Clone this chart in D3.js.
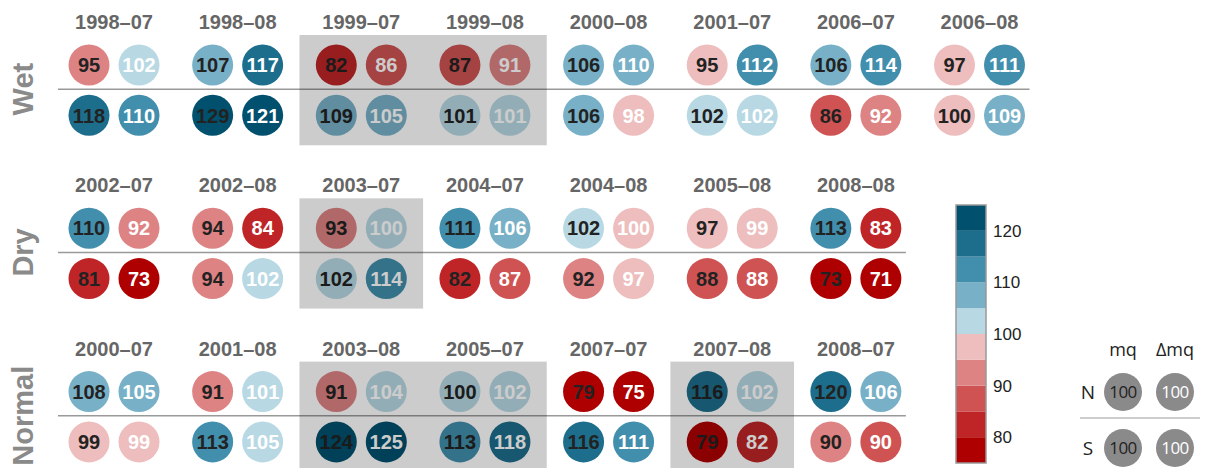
<!DOCTYPE html>
<html>
<head>
<meta charset="utf-8">
<script src="https://cdn.jsdelivr.net/npm/d3@7"></script>
<style>
  body { margin: 0; background: #fff; }
  svg { display: block; }
</style>
</head>
<body>
<svg id="chart"></svg>
<script>
// values; top row = N, bottom row = S, left circle = mq, right = Δmq
const wetMonths = ["1998–07", "1998–08", "1999–07", "1999–08", "2000–08", "2001–07", "2006–07", "2006–08"];
const wetNorthMq = [94.6, 107, 82, 87, 106, 95.2, 106, 97];
const wetNorthDmq = [102, 117, 86, 91, 109.6, 112, 114, 111];
const wetSouthMq = [118, 129, 109, 101, 106, 102, 86, 99.8];
const wetSouthDmq = [110, 121, 105, 101, 98, 102, 92, 109];
const wetShaded = ["1999–07", "1999–08"];

const dryMonths = ["2002–07", "2002–08", "2003–07", "2004–07", "2004–08", "2005–08", "2008–08"];
const dryNorthMq = [110, 94, 93, 111, 102, 97, 113];
const dryNorthDmq = [92, 84, 100.2, 106, 99.8, 99, 83];
const drySouthMq = [81, 94, 102, 82, 92, 88, 73];
const drySouthDmq = [73, 102, 114, 87, 97, 88, 71];
const dryShaded = ["2003–07"];

const normalMonths = ["2000–07", "2001–08", "2003–08", "2005–07", "2007–07", "2007–08", "2008–07"];
const normalNorthMq = [108, 91, 91, 100.2, 79, 116, 119.6];
const normalNorthDmq = [105, 101, 104, 102, 75, 102, 106];
const normalSouthMq = [99, 113, 124, 113, 116, 79, 90.2];
const normalSouthDmq = [99, 104.8, 125, 118, 111, 82, 89.8];
const normalShaded = ["2003–08", "2005–07", "2007–08"];

const binEdges = [75, 80, 85, 90, 95, 100, 105, 110, 115, 120, 125];
const binColors = ["#ae0000", "#bf2527", "#cf5353", "#de8383", "#eebdbd",
                   "#b8d9e4", "#78b1c7", "#428fad", "#1d6e8c", "#00506e"];
const colorbarTicks = [80, 90, 100, 110, 120];

const legendCols = ["mq", "Δmq"];
const legendRows = ["N", "S"];
const legendValue = 100;

const width = 1205, height = 468;

const svg = d3.select("#chart")
  .attr("width", width)
  .attr("height", height);

const color = d3.scaleThreshold()
  .domain(binEdges.slice(1, -1))
  .range(binColors);

const blocks = [
  { name: "Wet", months: wetMonths, n: [wetNorthMq, wetNorthDmq], s: [wetSouthMq, wetSouthDmq], shaded: wetShaded },
  { name: "Dry", months: dryMonths, n: [dryNorthMq, dryNorthDmq], s: [drySouthMq, drySouthDmq], shaded: dryShaded },
  { name: "Normal", months: normalMonths, n: [normalNorthMq, normalNorthDmq], s: [normalSouthMq, normalSouthDmq], shaded: normalShaded }
];

const xGroup = d3.scaleLinear().domain([0, 7]).range([114, 979.5]);
const xPair = d3.scalePoint().domain([0, 1]).range([-25, 25]);
const yBlock = d3.scalePoint().domain(blocks.map(b => b.name)).range([0, 326.6]);
const yHalf = d3.scalePoint().domain(legendRows).range([65, 115.3]);
const r = 20.5;
const step = xGroup(1) - xGroup(0);

const bold = "'Liberation Sans', Arial, Helvetica, sans-serif";

// join neighbouring shaded months into one span so the veil isn't doubled
function shadeRuns(months, shaded) {
  const idx = shaded.map(m => months.indexOf(m)).sort((a, b) => a - b);
  const runs = [];
  idx.forEach(i => {
    const last = runs[runs.length - 1];
    if (last && last[1] === i - 1) last[1] = i;
    else runs.push([i, i]);
  });
  return runs;
}

blocks.forEach(block => {
  const g = svg.append("g")
    .attr("transform", `translate(0,${yBlock(block.name)})`);

  const sepY = (yHalf("N") + yHalf("S")) / 2 - 1;

  // row label
  g.append("text")
    .attr("transform", `translate(33,${sepY}) rotate(-90)`)
    .attr("text-anchor", "middle")
    .style("font-family", bold)
    .style("font-weight", "bold")
    .style("font-size", "29px")
    .style("fill", "#8a8a8a")
    .text(block.name);

  // separator between N and S
  g.append("line")
    .attr("x1", xGroup(0) - 56)
    .attr("x2", xGroup(block.months.length - 1) + 50)
    .attr("y1", sepY).attr("y2", sepY)
    .attr("stroke", "#999")
    .attr("stroke-width", 1.5);

  g.selectAll(".month")
    .data(block.months)
    .join("text")
    .attr("x", (d, i) => xGroup(i))
    .attr("y", 29)
    .attr("text-anchor", "middle")
    .style("font-family", bold)
    .style("font-weight", "bold")
    .style("font-size", "20px")
    .style("fill", "#666")
    .text(d => d);

  const cells = [];
  block.months.forEach((m, i) => {
    [["N", block.n], ["S", block.s]].forEach(([row, series]) => {
      series.forEach((vals, k) => {
        cells.push({ month: m, i, row, k, value: vals[i] });
      });
    });
  });

  g.selectAll("circle.cell")
    .data(cells)
    .join("circle")
    .attr("class", "cell")
    .attr("cx", d => xGroup(d.i) + xPair(d.k))
    .attr("cy", d => yHalf(d.row))
    .attr("r", r)
    .attr("fill", d => color(d.value));

  g.selectAll("text.cell")
    .data(cells)
    .join("text")
    .attr("class", "cell")
    .attr("x", d => xGroup(d.i) + xPair(d.k))
    .attr("y", d => yHalf(d.row))
    .attr("dy", "0.36em")
    .attr("text-anchor", "middle")
    .style("font-family", bold)
    .style("font-weight", "bold")
    .style("font-size", "20px")
    .style("fill", d => d.k === 0 ? "#222" : "#fff")
    .text(d => Math.round(d.value));

  // highlighted months: dark veil drawn over everything
  g.selectAll("rect.shade")
    .data(shadeRuns(block.months, block.shaded))
    .join("rect")
    .attr("class", "shade")
    .attr("x", d => xGroup(d[0]) - step / 2)
    .attr("width", d => xGroup(d[1]) - xGroup(d[0]) + step)
    .attr("y", yHalf("N") - 30)
    .attr("height", yHalf("S") - yHalf("N") + 60)
    .attr("fill", "#000")
    .attr("fill-opacity", 0.2);
});

// colour bar
const cb = d3.scaleLinear().domain([75, 125]).range([463, 205]);
const cbX = 956, cbW = 30;

svg.append("g")
  .selectAll("rect")
  .data(binColors)
  .join("rect")
  .attr("x", cbX)
  .attr("width", cbW)
  .attr("y", (d, i) => cb(binEdges[i + 1]))
  .attr("height", (d, i) => cb(binEdges[i]) - cb(binEdges[i + 1]))
  .attr("fill", d => d);

svg.append("rect")
  .attr("x", cbX).attr("y", cb(125))
  .attr("width", cbW).attr("height", cb(75) - cb(125))
  .attr("fill", "none")
  .attr("stroke", "#999")
  .attr("stroke-width", 1.5);

const cbAxis = svg.append("g")
  .attr("transform", `translate(${cbX + cbW},0)`)
  .call(d3.axisRight(cb).tickValues(colorbarTicks).tickSize(0).tickPadding(7));
cbAxis.select(".domain").remove();
cbAxis.selectAll("text")
  .style("font-family", "'Liberation Sans', Arial, sans-serif")
  .style("font-size", "17px")
  .style("fill", "#222");

// legend
const legFont = "'Open Sans', 'Noto Sans', sans-serif";
const lx = d3.scalePoint().domain(legendCols).range([1123, 1175]);
const ly = d3.scalePoint().domain(legendRows).range([392, 448]);

const leg = svg.append("g");

leg.selectAll(".col")
  .data(legendCols)
  .join("text")
  .attr("x", d => lx(d))
  .attr("y", 356)
  .attr("text-anchor", "middle")
  .style("font-family", legFont)
  .style("font-size", "18px")
  .style("fill", "#222")
  .text(d => d);

leg.selectAll(".row")
  .data(legendRows)
  .join("text")
  .attr("x", 1088)
  .attr("y", d => ly(d))
  .attr("dy", "0.35em")
  .attr("text-anchor", "middle")
  .style("font-family", legFont)
  .style("font-size", "19px")
  .style("fill", "#222")
  .text(d => d);

leg.append("line")
  .attr("x1", 1080).attr("x2", 1200)
  .attr("y1", 418).attr("y2", 418)
  .attr("stroke", "#bbb")
  .attr("stroke-width", 1.5);

const legCells = legendRows.flatMap(row => legendCols.map((col, k) => ({ row, col, k })));

leg.selectAll("circle")
  .data(legCells)
  .join("circle")
  .attr("cx", d => lx(d.col))
  .attr("cy", d => ly(d.row))
  .attr("r", 19)
  .attr("fill", "#8a8a8a");

leg.selectAll("text.val")
  .data(legCells)
  .join("text")
  .attr("class", "val")
  .attr("x", d => lx(d.col))
  .attr("y", d => ly(d.row))
  .attr("dy", "0.36em")
  .attr("text-anchor", "middle")
  .style("font-family", legFont)
  .style("font-size", "17px")
  .style("letter-spacing", "-0.5px")
  .style("fill", d => d.k === 0 ? "#222" : "#fff")
  .text(legendValue);
</script>
</body>
</html>
